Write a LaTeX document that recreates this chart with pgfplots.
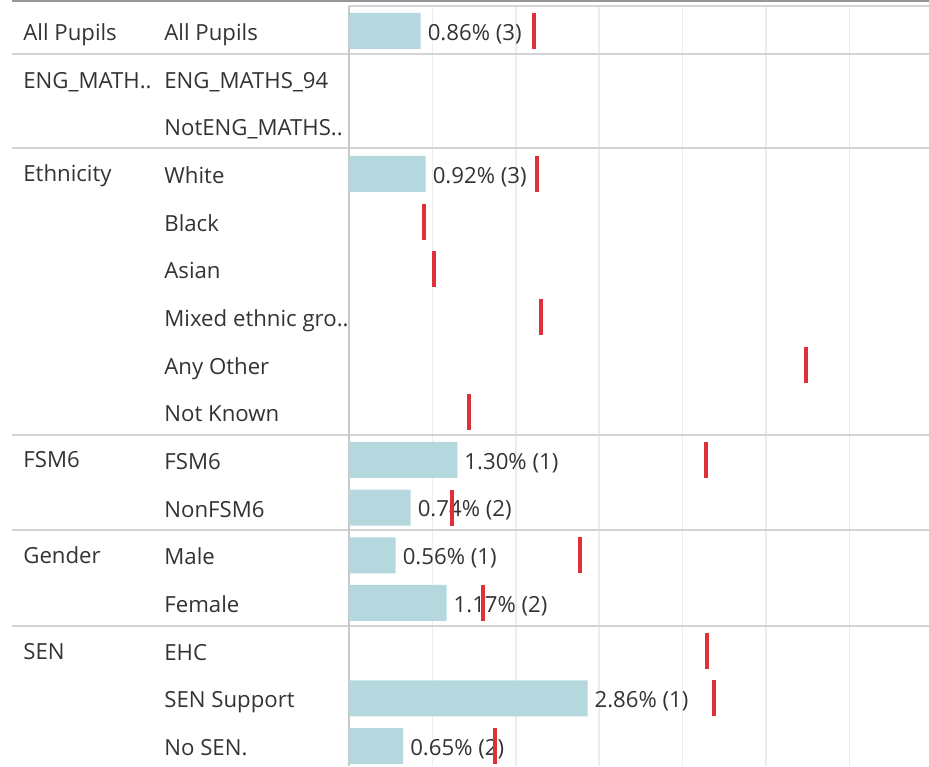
\documentclass[border=0pt]{standalone}
\usepackage{pgfplots}
\pgfplotsset{compat=1.18}
\usepackage{fontspec}
\setmainfont{Open Sans}
\definecolor{barcol}{HTML}{B4D8DD}
\definecolor{refred}{HTML}{E03138}
\definecolor{txt}{HTML}{333333}
\definecolor{sep}{HTML}{D4D4D4}
\definecolor{gridc}{HTML}{EDEDED}

\begin{document}
\begin{tikzpicture}[font=\fontsize{11.1}{13}\selectfont]
\begin{axis}[
  name=ax,
  scale only axis, width=290pt, height=380pt,
  xmin=0, xmax=6.954, ymin=-0.524, ymax=15.42,
  y dir=reverse,
  axis line style={draw=none},
  xtick={1,2,3,4,5,6}, xticklabels={},
  xmajorgrids, major grid style={gridc, line width=0.75pt},
  ytick={0,...,15},
  yticklabels={All Pupils, ENG\_MATHS\_94, NotENG\_MATHS.., White, Black, Asian,
    Mixed ethnic gro.., Any Other, Not Known, FSM6, NonFSM6, Male, Female,
    EHC, SEN Support, No SEN.},
  yticklabel style={anchor=base west, xshift=-92.5pt, yshift=-4.8pt, inner sep=0pt, text=txt},
  major tick length=0pt,
  clip=false,
]
% separators between groups
\draw[sep, line width=1pt] (axis cs:-4.04,0.48) -- (axis cs:6.954,0.48);
\draw[sep, line width=1pt] (axis cs:-4.04,2.45) -- (axis cs:6.954,2.45);
\draw[sep, line width=1pt] (axis cs:-4.04,8.47) -- (axis cs:6.954,8.47);
\draw[sep, line width=1pt] (axis cs:-4.04,10.47) -- (axis cs:6.954,10.47);
\draw[sep, line width=1pt] (axis cs:-4.04,12.48) -- (axis cs:6.954,12.48);
\draw[color={rgb,255:red,150;green,150;blue,150}, line width=1pt] (axis cs:-4.04,-0.629) -- (axis cs:6.954,-0.629);
\draw[sep, line width=0.75pt] (axis cs:0,-0.524) -- (axis cs:6.954,-0.524);
\draw[color={rgb,255:red,200;green,200;blue,200}, line width=0.75pt] (axis cs:0,-0.524) -- (axis cs:0,15.42);

\addplot[xbar, bar width=0.755, fill=barcol, draw=none,
  point meta=explicit symbolic, nodes near coords,
  nodes near coords style={anchor=west, text=txt, yshift=-1.5pt}]
  coordinates {
  (0.86,0) [0.86\% (3)]
  (0.92,3) [0.92\% (3)]
  (1.30,9) [1.30\% (1)]
  (0.74,10) [0.74\% (2)]
  (0.56,11) [0.56\% (1)]
  (1.17,12) [1.17\% (2)]
  (2.86,14) [2.86\% (1)]
  (0.65,15) [0.65\% (2)]
  };

\addplot[only marks, mark=|, mark size=9pt, mark options={line width=2pt, refred}]
  coordinates {
  (2.22,0) (2.25,3) (0.90,4) (1.02,5) (2.30,6) (5.48,7) (1.44,8)
  (4.28,9) (1.24,10) (2.77,11) (1.61,12) (4.29,13) (4.38,14) (1.75,15)
  };

\node[anchor=base west, inner sep=0pt, yshift=-4.8pt, text=txt] at (axis cs:-3.909,0) {All Pupils};
\node[anchor=base west, inner sep=0pt, yshift=-4.8pt, text=txt] at (axis cs:-3.909,1) {ENG\_MATH..};
\node[anchor=base west, inner sep=0pt, yshift=-4.8pt, text=txt] at (axis cs:-3.909,2.96) {Ethnicity};
\node[anchor=base west, inner sep=0pt, yshift=-4.8pt, text=txt] at (axis cs:-3.909,8.96) {FSM6};
\node[anchor=base west, inner sep=0pt, yshift=-4.8pt, text=txt] at (axis cs:-3.909,10.96) {Gender};
\node[anchor=base west, inner sep=0pt, yshift=-4.8pt, text=txt] at (axis cs:-3.909,12.98) {SEN};
\end{axis}
\pgfresetboundingbox
\path ([xshift=-174.5pt]ax.south west) rectangle ([yshift=3pt]ax.north east);
\end{tikzpicture}
\end{document}
